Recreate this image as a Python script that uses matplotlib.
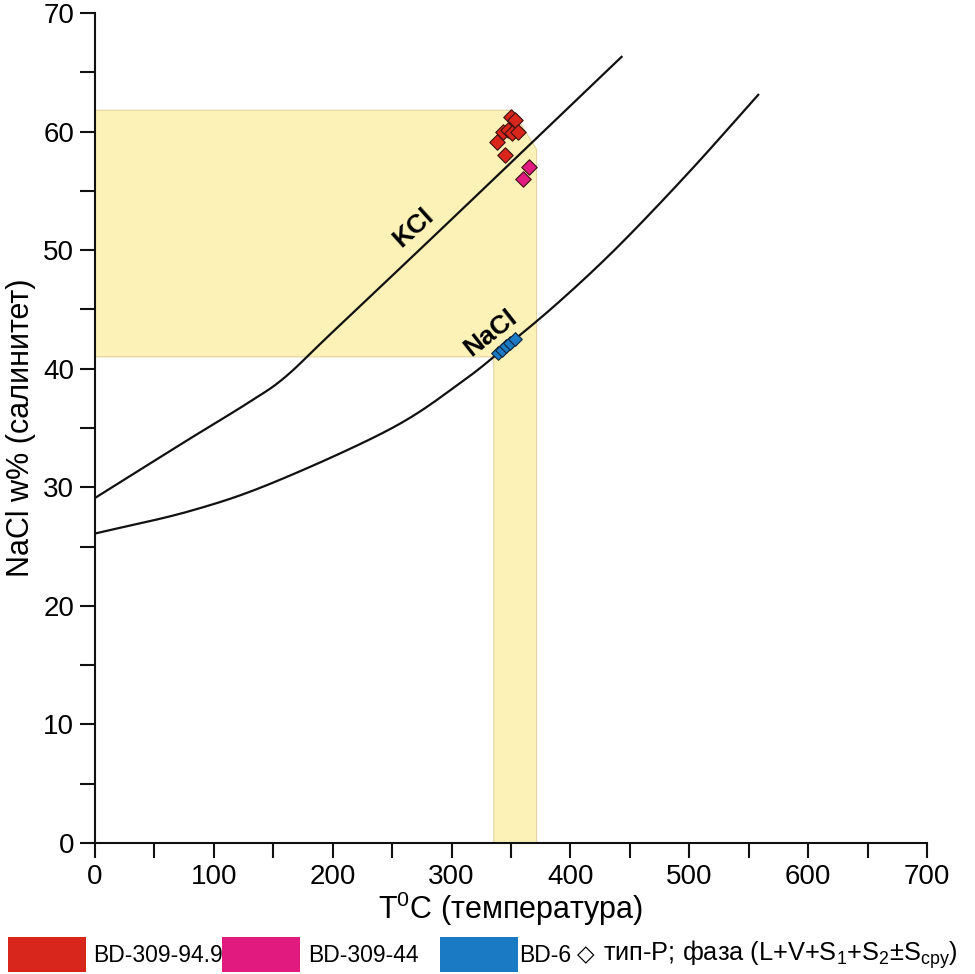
import matplotlib
matplotlib.use("Agg")
import numpy as np
import matplotlib.pyplot as plt
from matplotlib.patches import Rectangle, Polygon
from matplotlib.ticker import MultipleLocator

plt.rcParams['font.family'] = ['Liberation Sans', 'DejaVu Sans']
plt.rcParams['mathtext.fontset'] = 'custom'
plt.rcParams['mathtext.rm'] = 'Liberation Sans'
plt.rcParams['mathtext.it'] = 'Liberation Sans'

# Data
kcl_t = [0, 75, 130, 160, 200, 300, 443]
kcl_s = [29.1, 33.8, 37.2, 39.3, 43.1, 52.6, 66.3]
nacl_t = [0, 80, 150, 250, 310, 345, 390, 440, 500, 558]
nacl_s = [26.1, 28.0, 30.4, 35.0, 39.0, 41.8, 45.6, 50.3, 56.6, 63.1]

red_t = [350, 353.5, 343.5, 347.5, 350.5, 355.5, 338.5, 345]
red_s = [61.2, 61.0, 60.0, 60.1, 59.9, 60.0, 59.1, 58.0]
mag_t = [365.5, 360.5]
mag_s = [57.0, 56.0]
blue_t = [339, 342.5, 346, 349.5, 353]
blue_s = [41.3, 41.6, 41.9, 42.2, 42.5]

sal_range = [41.0, 61.8]
temp_range = [335.5, 371.5]
corner_t = 351
corner_s = 58.5

legend_labels = ['BD-309-94.9', 'BD-309-44', 'BD-6']
legend_colors = ['#D8261D', '#E01A7E', '#1A7AC4']


def smooth(xs, ys, n=20):
    """Catmull-Rom path through the read points (drawing only)."""
    x = np.asarray(xs, float)
    y = np.asarray(ys, float)
    px = np.concatenate([[2*x[0]-x[1]], x, [2*x[-1]-x[-2]]])
    py = np.concatenate([[2*y[0]-y[1]], y, [2*y[-1]-y[-2]]])
    ox, oy = [], []
    t = np.linspace(0, 1, n, endpoint=False)
    for i in range(1, len(px)-2):
        for arr, out in ((px, ox), (py, oy)):
            p0, p1, p2, p3 = arr[i-1], arr[i], arr[i+1], arr[i+2]
            out.extend(0.5*((2*p1) + (-p0+p2)*t + (2*p0-5*p1+4*p2-p3)*t**2 + (-p0+3*p1-3*p2+p3)*t**3))
    ox.append(x[-1]); oy.append(y[-1])
    return ox, oy


fig = plt.figure(figsize=(9.75, 9.74), dpi=100)
ax = fig.add_axes([95/975, 1-843/974, 832/975, 830/974])

poly = [(0, sal_range[0]), (0, sal_range[1]), (corner_t, sal_range[1]),
        (temp_range[1], corner_s), (temp_range[1], 0), (temp_range[0], 0),
        (temp_range[0], sal_range[0])]
ax.add_patch(Polygon(poly, closed=True, facecolor='#FCF1B6', edgecolor='#E3D3A0',
                     linewidth=0.8, zorder=1))

for tt, ss in ((kcl_t, kcl_s), (nacl_t, nacl_s)):
    sx, sy = smooth(tt, ss)
    ax.plot(sx, sy, color='#111111', lw=1.6, zorder=2, solid_joinstyle='round')

ax.scatter(red_t, red_s, marker='D', s=62, c=legend_colors[0], edgecolors='#3a1212', linewidths=0.8, zorder=4)
ax.scatter(mag_t, mag_s, marker='D', s=62, c=legend_colors[1], edgecolors='#3a1212', linewidths=0.8, zorder=4)
ax.scatter(blue_t, blue_s, marker='D', s=48, c=legend_colors[2], edgecolors='#10243a', linewidths=0.8, zorder=4)

ax.text(268, 51.9, 'KCl', rotation=42, fontsize=19, fontweight='bold', ha='center', va='center', zorder=5)
ax.text(333, 43.0, 'NaCl', rotation=38, fontsize=19, fontweight='bold', ha='center', va='center', zorder=5)

ax.set_xlim(0, 700)
ax.set_ylim(0, 70)
ax.xaxis.set_major_locator(MultipleLocator(100))
ax.xaxis.set_minor_locator(MultipleLocator(50))
ax.yaxis.set_major_locator(MultipleLocator(10))
ax.yaxis.set_minor_locator(MultipleLocator(5))
for s in ['top', 'right']:
    ax.spines[s].set_visible(False)
for s in ['left', 'bottom']:
    ax.spines[s].set_linewidth(1.5)
    ax.spines[s].set_color('#111111')
ax.tick_params(which='both', direction='out', length=11, width=1.5, color='#111111')
ax.tick_params(which='major', labelsize=20, pad=4)
ax.set_xlabel('T$^0$C (температура)', fontsize=22, labelpad=0)
ax.set_ylabel('NaCl w% (салинитет)', fontsize=22, labelpad=5)

# legend
xs = [8, 222, 440]
tx = [93, 308, 519]
for x0, t0, lab, col in zip(xs, tx, legend_labels, legend_colors):
    fig.patches.append(Rectangle((x0/975, 1-972/974), 78/975, 35/974, transform=fig.transFigure,
                                 facecolor=col, edgecolor='none'))
    fig.text(t0/975, 1-955/974, lab, fontsize=16.5, va='center', ha='left')
fig.text(577/975, 1-955/974, '◇', fontsize=16.5, va='center', ha='left', family=['DejaVu Sans'])
fig.text(603/975, 1-955/974, 'тип-P; фаза (L+V+S$_1$+S$_2$±S$_{сру}$)', fontsize=18.3, va='center', ha='left')

fig.savefig('out.png', dpi=100, facecolor='white')
